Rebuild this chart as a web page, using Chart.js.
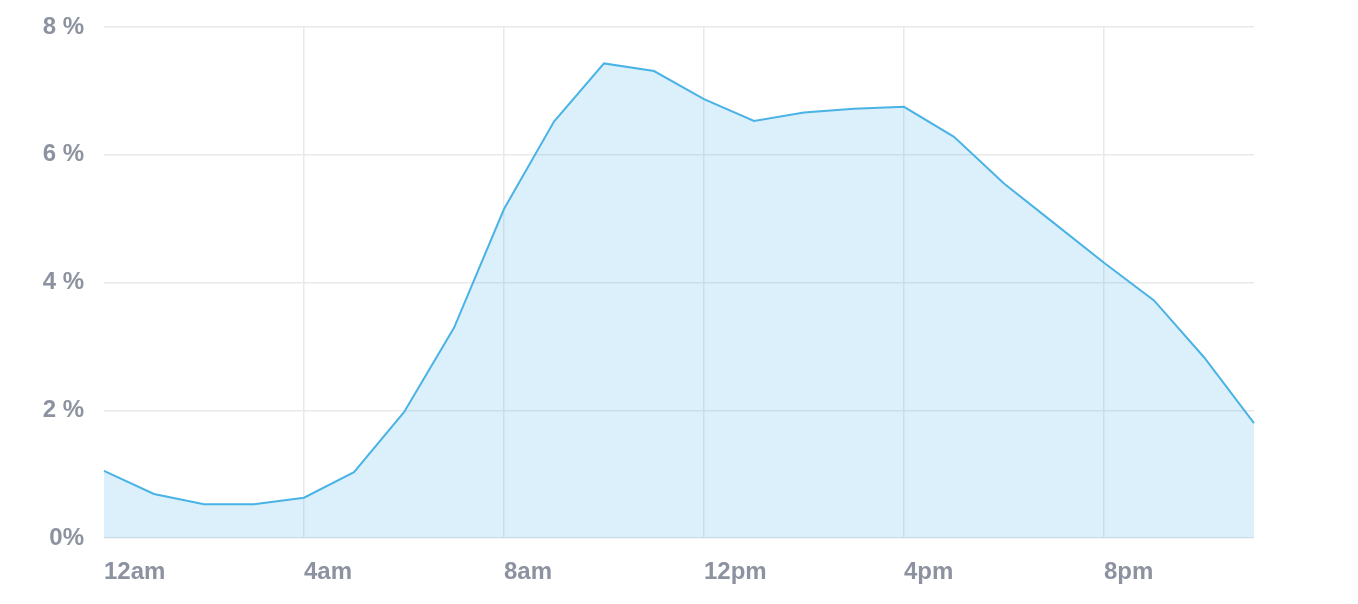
<!DOCTYPE html>
<html>
<head>
<meta charset="utf-8">
<script src="https://cdn.jsdelivr.net/npm/chart.js@4"></script>
<style>
  html, body { margin:0; padding:0; background:#fff; }
  #wrap { width:1358px; height:604px; }
</style>
</head>
<body>
<div id="wrap"><canvas id="grafico"></canvas></div>
<script>
// --- Dados ---
const horas = ["12am","1am","2am","3am","4am","5am","6am","7am","8am","9am","10am","11am",
               "12pm","1pm","2pm","3pm","4pm","5pm","6pm","7pm","8pm","9pm","10pm","11pm"];
const percentuais = [1.05, 0.69, 0.53, 0.53, 0.63, 1.03, 1.97, 3.29, 5.15, 6.52, 7.43, 7.31,
                     6.87, 6.53, 6.66, 6.72, 6.75, 6.28, 5.55, 4.93, 4.31, 3.72, 2.83, 1.80];
const ticksY = [0, 2, 4, 6, 8];

const corTexto = "#8d92a0";
const corGrade = "#e9e9ec";
const fonte = { family:"'Liberation Sans', Arial, sans-serif", size:24, weight:"bold" };

// --- Gráfico ---
function montarGrafico(){
    const ctx = document.getElementById("grafico");

    window.grafico = new Chart(ctx,{
        type:'line',
        data:{
            labels: horas,
            datasets:[{
                data: percentuais,
                borderColor:'#4ab3e6',
                borderWidth:2,
                backgroundColor:'rgba(74,179,230,0.2)',
                fill:'origin',
                pointRadius:0,
                tension:0
            }]
        },
        options:{
            responsive:true,
            maintainAspectRatio:false,
            animation:false,
            layout:{ padding:{ top:27, right:104, bottom:0, left:0 } },
            plugins:{ legend:{ display:false }, tooltip:{ enabled:false } },
            scales:{
                x:{
                    offset:false,
                    border:{ display:false },
                    grid:{
                        drawTicks:false,
                        lineWidth:1.5,
                        color:(c)=> (c.index>0 && c.index%4===0) ? corGrade : 'rgba(0,0,0,0)'
                    },
                    ticks:{
                        autoSkip:false,
                        maxRotation:0,
                        align:'start',
                        padding:20,
                        color:corTexto,
                        font:fonte,
                        callback:(v,i)=> i%4===0 ? horas[i] : ''
                    },
                    afterFit:(s)=>{ s.height = 66; s.paddingLeft = 0; s.paddingRight = 0; }
                },
                y:{
                    min:0,
                    max:8,
                    border:{ display:false },
                    grid:{ drawTicks:false, lineWidth:1.5, color:corGrade },
                    afterBuildTicks:(s)=>{ s.ticks = ticksY.map(v=>({ value:v })); },
                    ticks:{
                        padding:20,
                        color:corTexto,
                        font:fonte,
                        callback:(v)=> v===0 ? '0%' : v + ' %'
                    },
                    afterFit:(s)=>{ s.width = 104; s.paddingTop = 0; s.paddingBottom = 0; }
                }
            }
        }
    });
}

// --- Inicialização ---
window.onload = function(){
    montarGrafico();
};
</script>
</body>
</html>
